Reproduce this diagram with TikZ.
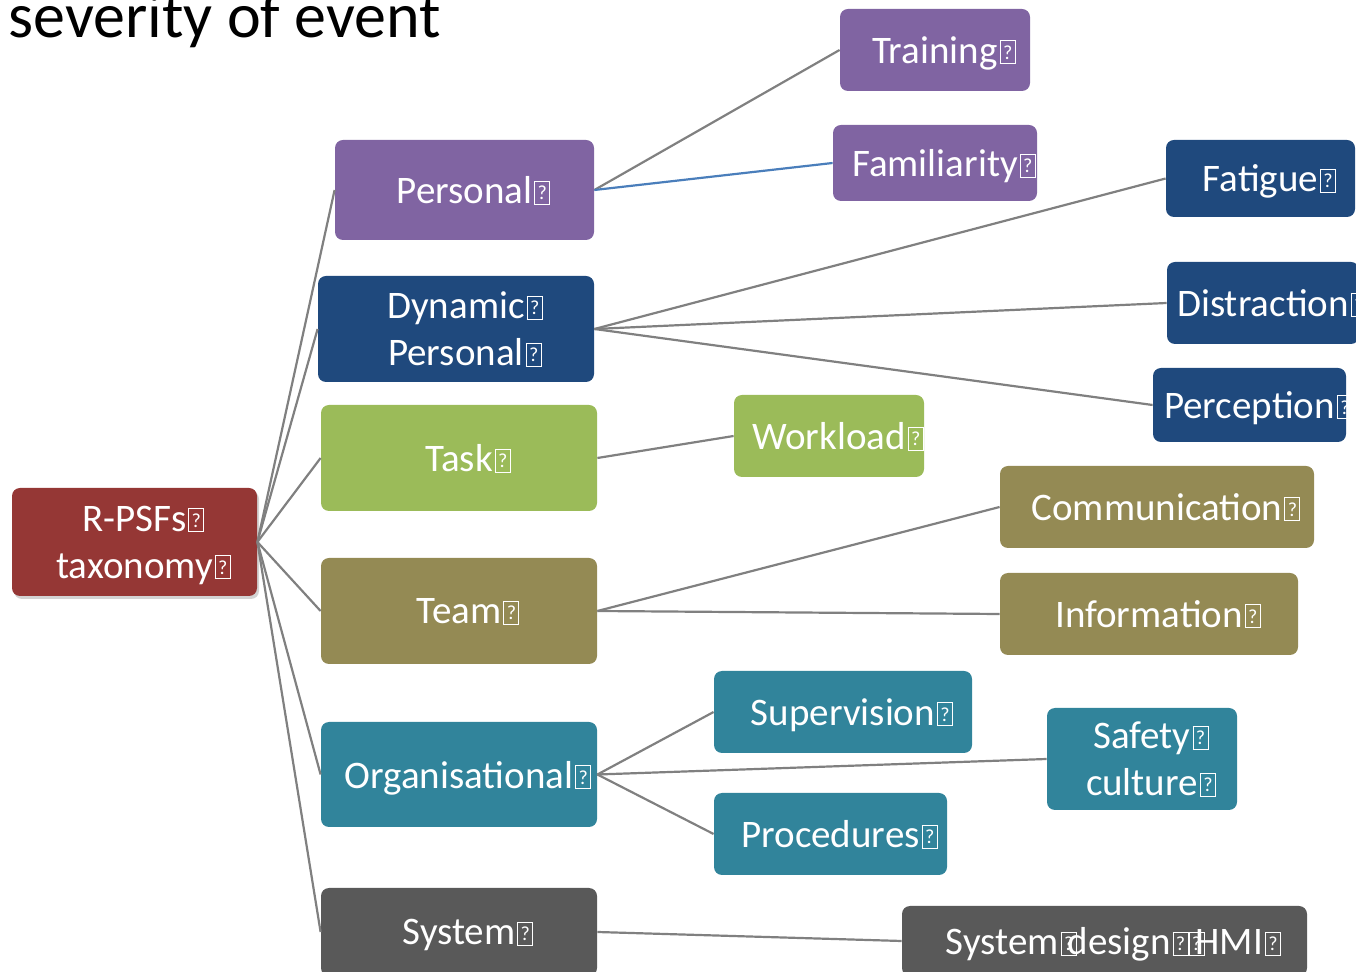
\documentclass[tikz,border=0pt]{standalone}
\usepackage{fontspec}
\setmainfont{Carlito}
\usepackage{tikz}
\usetikzlibrary{shadows}
\usepackage{xcolor}
\definecolor{crouge}{HTML}{953735}
\definecolor{cmauve}{HTML}{8064A2}
\definecolor{cmarine}{HTML}{1F497D}
\definecolor{cvert}{HTML}{9BBB59}
\definecolor{colive}{HTML}{948A54}
\definecolor{ccanard}{HTML}{31849B}
\definecolor{cfonce}{HTML}{595959}
\definecolor{cgris}{HTML}{808080}
\definecolor{cbleu}{HTML}{4A7EBB}
\tikzstyle{bloc} = [rectangle, rounded corners=4pt, text=white, align=center, inner sep=0pt, text depth=0pt, font=\fontsize{19.5}{23.5}\selectfont]
\tikzstyle{trait} = [draw=cgris, line width=1.1pt]
% little framed question mark glyph, sticking out to the right
\newcommand{\qbox}{\rlap{\kern1pt{\fboxsep=0pt\fboxrule=0.5pt\fbox{\rule{0pt}{11pt}\makebox[7pt]{\raisebox{2pt}{\fontsize{10}{10}\selectfont ?}}}}}}

\begin{document}
\begin{tikzpicture}[x=0.5pt, y=-0.5pt]
        \useasboundingbox (0,0) rectangle (1356,972);

        \node (titre) [anchor=base west, inner sep=0pt, font=\fontsize{32}{36}\selectfont] at (8,38) {severity of event};

        \node (racine) [bloc, fill=crouge, minimum width=122.5pt, minimum height=54pt, drop shadow={opacity=0.35, shadow xshift=1pt, shadow yshift=-1.5pt}] at (134.5,542) {R-PSFs\qbox\\taxonomy\qbox};

        % categories
        \node (pers)   [bloc, fill=cmauve,  minimum width=129.5pt, minimum height=50pt]   at (464.5,190) {Personal\qbox};
        \node (dyn)    [bloc, fill=cmarine, minimum width=138pt,   minimum height=53pt]   at (456,329)   {Dynamic\qbox\\Personal\qbox};
        \node (tache)  [bloc, fill=cvert,   minimum width=138pt,   minimum height=53pt]   at (459,458)   {Task\qbox};
        \node (equipe) [bloc, fill=colive,  minimum width=138pt,   minimum height=53pt]   at (459,611)   {Team\qbox};
        \node (orga)   [bloc, fill=ccanard, minimum width=138pt,   minimum height=52.5pt] at (459,774.5) {Organisational\qbox};
        \node (sys)    [bloc, fill=cfonce,  minimum width=138pt,   minimum height=44pt]   at (459,932)   {System\qbox};

        % factors
        \node (train)  [bloc, fill=cmauve,  minimum width=95pt,    minimum height=41pt]   at (935,50)     {Training\qbox};
        \node (famil)  [bloc, fill=cmauve,  minimum width=102pt,   minimum height=38pt]   at (935,163)    {Familiarity\qbox};
        \node (fatig)  [bloc, fill=cmarine, minimum width=94.5pt,  minimum height=38.5pt] at (1260.5,178.5) {Fatigue\qbox};
        \node (distr)  [bloc, fill=cmarine, minimum width=96pt,    minimum height=41pt]   at (1263,303)   {Distraction\qbox};
        \node (percep) [bloc, fill=cmarine, minimum width=96.5pt,  minimum height=37pt]   at (1249.5,405) {Perception\qbox};
        \node (charge) [bloc, fill=cvert,   minimum width=95pt,    minimum height=41pt]   at (829,436)    {Workload\qbox};
        \node (comm)   [bloc, fill=colive,  minimum width=157pt,   minimum height=41pt]   at (1157,507)   {Communication\qbox};
        \node (info)   [bloc, fill=colive,  minimum width=149pt,   minimum height=41pt]   at (1149,614)   {Information\qbox};
        \node (superv) [bloc, fill=ccanard, minimum width=129pt,   minimum height=41pt]   at (843,712)    {Supervision\qbox};
        \node (secu)   [bloc, fill=ccanard, minimum width=95pt,    minimum height=51pt]   at (1142,759)   {Safety\qbox\\culture\qbox};
        \node (proc)   [bloc, fill=ccanard, minimum width=116.5pt, minimum height=41pt]   at (830.5,834)  {Procedures\qbox};
        \node (hmi)    [bloc, fill=cfonce,  minimum width=202.5pt, minimum height=35pt]   at (1104.5,941) {System\qbox\hspace{4.5pt}design\qbox\hspace{8pt}\qbox\hspace{4.5pt}HMI\qbox};

        \draw [trait] (racine.east) -- (pers.west);
        \draw [trait] (racine.east) -- (dyn.west);
        \draw [trait] (racine.east) -- (tache.west);
        \draw [trait] (racine.east) -- (equipe.west);
        \draw [trait] (racine.east) -- (orga.west);
        \draw [trait] (racine.east) -- (sys.west);

        \draw [trait] (pers.east) -- (train.west);
        \draw [trait, draw=cbleu] (pers.east) -- (famil.west);

        \draw [trait] (dyn.east) -- (fatig.west);
        \draw [trait] (dyn.east) -- (distr.west);
        \draw [trait] (dyn.east) -- (percep.west);

        \draw [trait] (tache.east) -- (charge.west);

        \draw [trait] (equipe.east) -- (comm.west);
        \draw [trait] (equipe.east) -- (info.west);

        \draw [trait] (orga.east) -- (superv.west);
        \draw [trait] (orga.east) -- (secu.west);
        \draw [trait] (orga.east) -- (proc.west);

        \draw [trait] (sys.east) -- (hmi.west);

    \end{tikzpicture}
\end{document}
